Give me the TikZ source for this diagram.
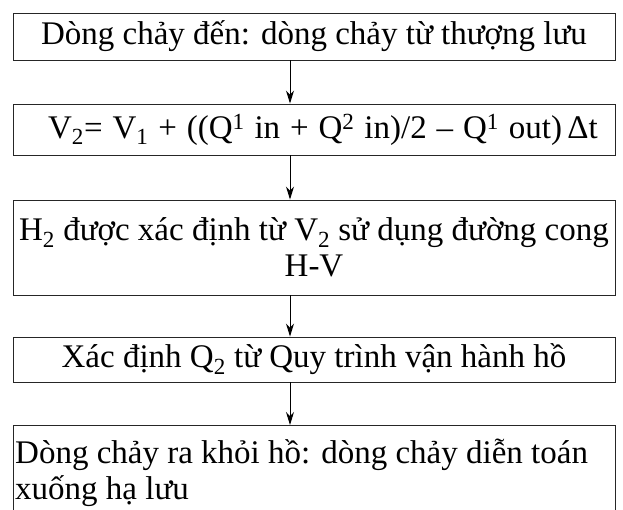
\documentclass[tikz,border=0pt]{standalone}
\usepackage{fontspec}
\setmainfont{Liberation Serif}
\usetikzlibrary{arrows.meta}
\begin{document}
\begin{tikzpicture}[x=1pt,y=1pt,
  box/.style={draw=black!85, line width=0.9pt, inner sep=0pt, minimum width=602pt, font=\fontsize{33}{36}\selectfont},
  txt/.style={inner sep=0pt, font=\fontsize{33}{36}\selectfont},
  arr/.style={draw=black, line width=1pt, -{Stealth[length=13pt,width=8pt]}}]
\useasboundingbox (0,0) rectangle (623,509);
\fill[white] (0,0) rectangle (623,509);
\clip (0,0) rectangle (623,509);
\coordinate (ax) at (290,0);
\node[box, minimum height=47pt] (b1) at (314,472.5) {Dòng chảy đến: dòng chảy từ thượng lưu};
\node[box, minimum height=51pt] (b2) at (314,379.5) {\spaceskip=0.3em\hspace*{18pt}V\textsubscript{2}= V\textsubscript{1} + ((Q\textsuperscript{1} in + Q\textsuperscript{2} in)/2 – Q\textsuperscript{1} out)\,Δt};
\node[box, minimum height=95pt, align=center] (b3) at (314,261.5) {H\textsubscript{2} được xác định từ V\textsubscript{2} sử dụng đường cong\\H-V};
\node[box, minimum height=45pt] (b4) at (314,149.5) {Xác định Q\textsubscript{2} từ Quy trình vận hành hồ};
\node[box, minimum height=130pt, anchor=north west] (b5) at (13,84) {};
\node[txt, anchor=north west, align=left] (t5) at ([xshift=2pt,yshift=-14pt]b5.north west) {Dòng chảy ra khỏi hồ: dòng chảy diễn toán\\xuống hạ lưu};
\draw[arr] (b1.south -| ax) -- (b2.north -| ax);
\draw[arr] (b2.south -| ax) -- (b3.north -| ax);
\draw[arr] (b3.south -| ax) -- (b4.north -| ax);
\draw[arr] (b4.south -| ax) -- (b5.north -| ax);
\end{tikzpicture}
\end{document}
